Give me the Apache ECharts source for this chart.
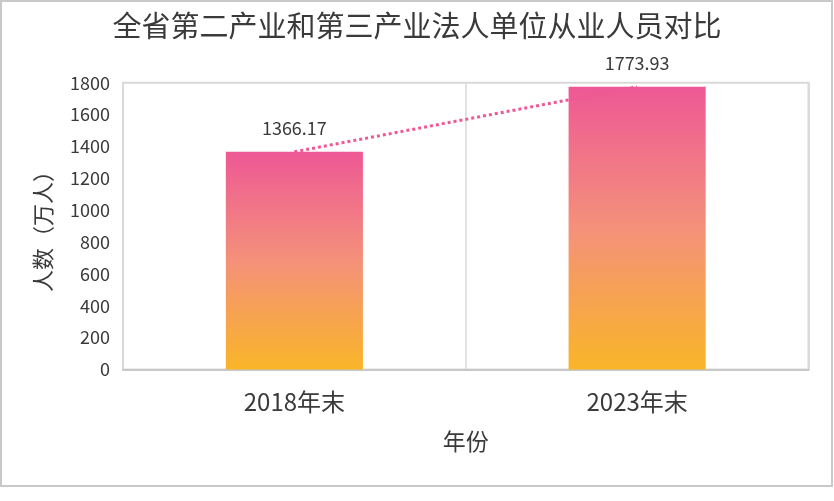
<!DOCTYPE html>
<html>
<head>
<meta charset="utf-8">
<script src="https://cdn.jsdelivr.net/npm/echarts@6/dist/echarts.min.js"></script>
<style>
html,body{margin:0;padding:0;background:#fff;}
#c{width:834px;height:501px;}
</style>
</head>
<body>
<div id="c"></div>
<script>
var titleText = '全省第二产业和第三产业法人单位从业人员对比';
var categories = ['2018年末', '2023年末'];
var values = [1366.17, 1773.93];
var yTicks = [0, 200, 400, 600, 800, 1000, 1200, 1400, 1600, 1800];
var xAxisName = '年份';
var yAxisName = '人数（万人）';

var FONT = '"Noto Sans CJK SC", "Noto Sans", sans-serif';
var chart = echarts.init(document.getElementById('c'));
chart.setOption({
  backgroundColor: '#fff',
  textStyle: { fontFamily: FONT },
  title: {
    text: titleText,
    left: 'center',
    top: 6,
    textStyle: { fontSize: 29, fontWeight: 'normal', color: '#3a3a3a', fontFamily: FONT }
  },
  graphic: [{
    type: 'rect',
    shape: { x: 1, y: 1, width: 831, height: 485 },
    style: { fill: 'none', stroke: '#c9c9c9', lineWidth: 2 },
    silent: true
  }],
  grid: {
    left: 123, right: 25.5, top: 82.7, bottom: 131.5,
    show: true, borderColor: '#d9d9d9', borderWidth: 2, backgroundColor: 'transparent'
  },
  xAxis: {
    type: 'category',
    data: categories,
    name: xAxisName,
    nameLocation: 'middle',
    nameGap: 60,
    nameTextStyle: { fontSize: 23, color: '#3a3a3a', fontFamily: FONT },
    axisLine: { show: true, lineStyle: { color: '#c8c8c8', width: 2 } },
    axisTick: { show: false },
    axisLabel: { fontSize: 24, color: '#3a3a3a', margin: 20, fontFamily: FONT },
    splitLine: { show: true, lineStyle: { color: '#d9d9d9', width: 1.5 } }
  },
  yAxis: {
    type: 'value',
    min: yTicks[0],
    max: yTicks[yTicks.length - 1],
    interval: yTicks[1] - yTicks[0],
    name: yAxisName,
    nameLocation: 'middle',
    nameRotate: 90,
    nameGap: 69,
    nameTextStyle: { fontSize: 22, color: '#3a3a3a', fontFamily: FONT },
    axisLine: { show: false },
    axisTick: { show: false },
    splitLine: { show: false },
    axisLabel: {
      fontSize: 18, color: '#3a3a3a', margin: 13, fontFamily: FONT,
      formatter: function (v) { return String(v); }
    }
  },
  series: [{
    type: 'bar',
    data: values,
    barWidth: '40%',
    itemStyle: {
      color: new echarts.graphic.LinearGradient(0, 0, 0, 1, [
        { offset: 0, color: '#EE5895' },
        { offset: 0.5, color: '#F4917A' },
        { offset: 1, color: '#F9B528' }
      ])
    },
    label: {
      show: true, position: 'top', distance: 15,
      fontSize: 18, color: '#3a3a3a', fontFamily: FONT,
      formatter: function (p) { return p.value.toFixed(2); }
    },
    z: 2
  }, {
    type: 'line',
    data: values,
    symbol: 'none',
    lineStyle: { color: '#EE5895', width: 3, type: 'dotted' },
    z: 3
  }]
});
</script>
</body>
</html>
